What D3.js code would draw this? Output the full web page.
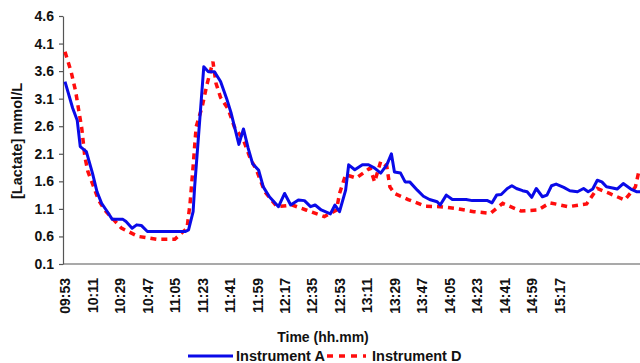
<!DOCTYPE html>
<html>
<head>
<meta charset="utf-8">
<script src="https://cdn.jsdelivr.net/npm/d3@7/dist/d3.min.js"></script>
<style>
  html, body { margin: 0; padding: 0; background: #fff; }
  svg { display: block; font-family: "Liberation Sans", Arial, sans-serif; font-weight: bold; }
</style>
</head>
<body>
<svg id="chart" width="640" height="363"></svg>
<script>
// ---- data ----
const tickLabels = ["09:53","10:11","10:29","10:47","11:05","11:23","11:41","11:59","12:17","12:35",
                    "12:53","13:11","13:29","13:47","14:05","14:23","14:41","14:59","15:17"];
const yTicks = [0.1, 0.6, 1.1, 1.6, 2.1, 2.6, 3.1, 3.6, 4.1, 4.6];

const timesA = ["09:53","09:58","10:01","10:03","10:07","10:11","10:14","10:17","10:20","10:24",
  "10:27","10:31","10:33","10:37","10:40","10:43","10:47","11:12","11:14","11:17",
  "11:18","11:21","11:24","11:27","11:31","11:35","11:39","11:42","11:47","11:50",
  "11:53","11:56","12:00","12:03","12:07","12:13","12:17","12:21","12:26","12:30",
  "12:34","12:37","12:41","12:47","12:50","12:53","12:57","12:59","13:03","13:08",
  "13:12","13:16","13:20","13:24","13:27","13:29","13:33","13:36","13:39","13:44",
  "13:48","13:52","13:57","13:59","14:03","14:07","14:16","14:20","14:30","14:33",
  "14:36","14:39","14:43","14:46","14:49","14:53","14:56","14:59","15:02","15:06",
  "15:09","15:12","15:15","15:20","15:24","15:29","15:33","15:36","15:39","15:42",
  "15:45","15:48","15:52","15:55","15:59","16:04","16:08","16:10"];
const valuesA = [3.41,2.93,2.71,2.23,2.14,1.75,1.41,1.20,1.08,0.91,
  0.91,0.91,0.87,0.75,0.81,0.80,0.69,0.69,0.72,1.05,
  1.50,2.59,3.68,3.59,3.59,3.41,3.10,2.83,2.27,2.55,
  2.21,1.92,1.80,1.50,1.32,1.14,1.38,1.17,1.26,1.25,
  1.14,1.17,1.08,1.01,1.17,1.05,1.44,1.90,1.81,1.90,
  1.90,1.84,1.75,1.90,2.10,1.77,1.75,1.59,1.59,1.44,
  1.33,1.27,1.23,1.17,1.35,1.27,1.27,1.25,1.25,1.21,
  1.35,1.36,1.47,1.52,1.47,1.43,1.41,1.31,1.47,1.32,
  1.35,1.52,1.55,1.49,1.43,1.41,1.47,1.41,1.46,1.62,
  1.59,1.50,1.48,1.46,1.56,1.46,1.41,1.41];

const timesD = ["09:53","09:57","10:00","10:02","10:04","10:06","10:08","10:11","10:15","10:19",
  "10:24","10:30","10:41","10:53","11:05","11:13","11:15","11:17","11:19","11:23",
  "11:26","11:30","11:32","11:35","11:40","11:44","11:50","11:54","11:59","12:04",
  "12:12","12:22","12:31","12:43","12:51","12:53","12:57","13:04","13:13","13:16",
  "13:20","13:24","13:26","13:29","13:38","13:49","13:59","14:09","14:21","14:32",
  "14:40","14:52","15:03","15:11","15:23","15:35","15:42","15:50","16:00","16:07","16:09"];
const valuesD = [3.95,3.59,3.23,2.89,2.56,2.05,1.78,1.56,1.26,1.08,
  0.93,0.75,0.60,0.55,0.55,0.75,1.20,1.87,2.59,2.96,
  3.35,3.77,3.38,3.12,2.91,2.59,2.35,2.05,1.77,1.41,
  1.14,1.17,1.08,0.96,1.08,1.38,1.72,1.66,1.84,1.59,
  1.96,1.87,1.50,1.38,1.27,1.15,1.14,1.11,1.05,1.02,
  1.20,1.06,1.08,1.21,1.14,1.19,1.47,1.38,1.26,1.50,1.75];

const seriesNames = ["Instrument A", "Instrument D"];
const xTitle = "Time (hh.mm)";
const yTitle = "[Lactate] mmol/L";

// ---- drawing ----
const parse = d3.timeParse("%H:%M");
const svg = d3.select("#chart");
const axisColor = "#555";
const blue = "#0a0ae8";
const red = "#ff0d0d";

const x = d3.scaleTime().domain([parse("09:53"), parse("16:10")]).range([65, 640]);
const y = d3.scaleLinear().domain([0.1, 4.6]).range([264, 16]);
const plotLeft = 63;

// y axis
const yAxis = svg.append("g")
  .attr("transform", `translate(${plotLeft},0)`)
  .call(d3.axisLeft(y).tickValues(yTicks).tickFormat(d3.format(".1f")).tickSize(4).tickPadding(5).tickSizeOuter(0));
yAxis.select(".domain").attr("stroke", axisColor).attr("stroke-width", 1.2);
yAxis.selectAll(".tick line").attr("stroke", axisColor).attr("stroke-width", 1.2);
yAxis.selectAll(".tick text").attr("fill", "#111").style("font-size", "14px").style("font-weight", "bold")
  .style("font-family", "'Liberation Sans', Arial, sans-serif");

// x axis
svg.append("line")
  .attr("x1", plotLeft).attr("x2", 640)
  .attr("y1", y(0.1)).attr("y2", y(0.1))
  .attr("stroke", axisColor).attr("stroke-width", 1.2);
const xAxis = svg.append("g")
  .attr("transform", `translate(0,${y(0.1)})`)
  .call(d3.axisBottom(x).tickValues(tickLabels.map(parse)).tickFormat(d3.timeFormat("%H:%M")).tickSize(0));
xAxis.select(".domain").remove();
xAxis.selectAll(".tick text")
  .attr("transform", "rotate(-90)")
  .attr("x", -14).attr("y", 0).attr("dy", "0.35em")
  .attr("text-anchor", "end")
  .attr("fill", "#111").style("font-size", "14px").style("font-weight", "bold")
  .style("font-family", "'Liberation Sans', Arial, sans-serif");

// titles
svg.append("text")
  .attr("transform", "translate(22,141) rotate(-90)")
  .attr("text-anchor", "middle")
  .attr("fill", "#111").style("font-size", "14.5px")
  .text(yTitle);
svg.append("text")
  .attr("x", 323).attr("y", 342)
  .attr("text-anchor", "middle")
  .attr("fill", "#111").style("font-size", "14px")
  .text(xTitle);

// lines
const lineA = d3.line().x((d, i) => x(parse(timesA[i]))).y(d => y(d));
const lineD = d3.line().x((d, i) => x(parse(timesD[i]))).y(d => y(d));

svg.append("path").datum(valuesD)
  .attr("d", lineD).attr("fill", "none")
  .attr("stroke", red).attr("stroke-width", 3.5)
  .attr("stroke-dasharray", "6,5");
svg.append("path").datum(valuesA)
  .attr("d", lineA).attr("fill", "none")
  .attr("stroke", blue).attr("stroke-width", 3)
  .attr("stroke-linejoin", "round");

// legend
const legY = 356;
const leg = svg.append("g");
leg.append("line").attr("x1", 188).attr("x2", 233).attr("y1", legY).attr("y2", legY)
  .attr("stroke", blue).attr("stroke-width", 3);
leg.append("text").attr("x", 236).attr("y", legY + 5).attr("fill", "#111").style("font-size", "14.5px")
  .text(seriesNames[0]);
leg.append("line").attr("x1", 327).attr("x2", 366).attr("y1", legY).attr("y2", legY)
  .attr("stroke", red).attr("stroke-width", 3.5).attr("stroke-dasharray", "6,6");
leg.append("text").attr("x", 372).attr("y", legY + 5).attr("fill", "#111").style("font-size", "14.5px")
  .text(seriesNames[1]);
</script>
</body>
</html>
